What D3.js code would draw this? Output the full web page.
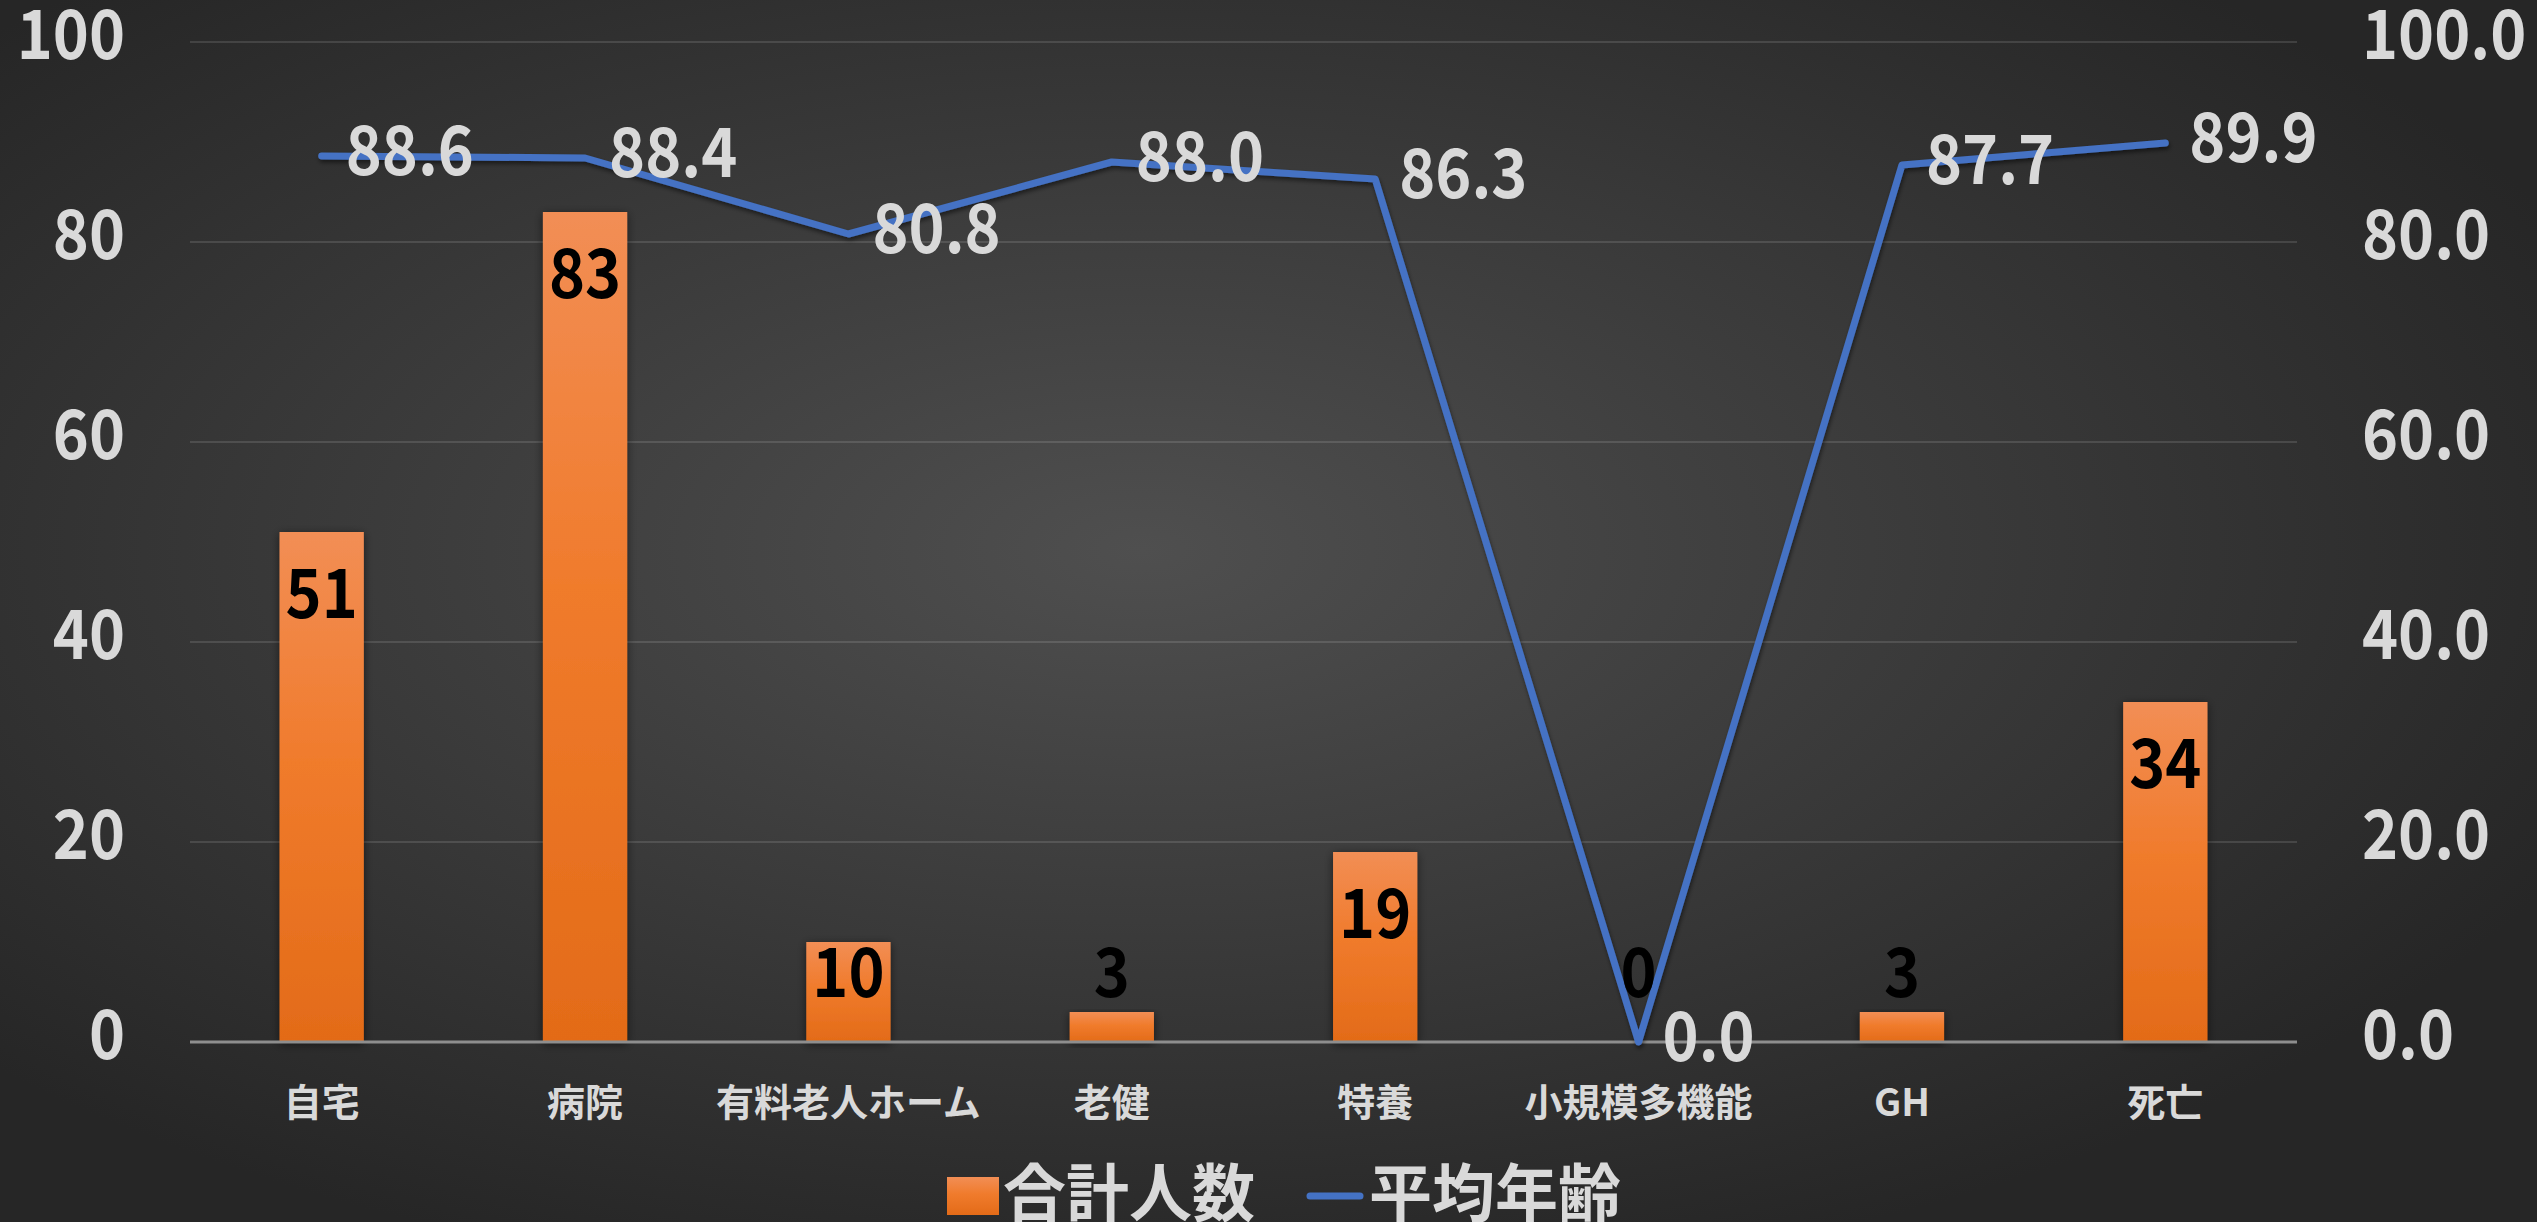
<!DOCTYPE html>
<html>
<head>
<meta charset="utf-8">
<script src="https://cdn.jsdelivr.net/npm/d3@7"></script>
<style>
  html, body { margin: 0; padding: 0; background: #2b2b2b; }
  svg { display: block; }
  text { font-family: "Noto Sans CJK JP", "Noto Sans", sans-serif; }
</style>
</head>
<body>
<svg id="chart" width="2537" height="1222"></svg>
<script>
// ---- data ----
const categories = ["自宅", "病院", "有料老人ホーム", "老健", "特養", "小規模多機能", "GH", "死亡"];
const counts = [51, 83, 10, 3, 19, 0, 3, 34];          // 合計人数 (left axis)
const ages = [88.6, 88.4, 80.8, 88.0, 86.3, 0.0, 87.7, 89.9]; // 平均年齢 (right axis)
const leftTicks = [0, 20, 40, 60, 80, 100];
const rightTicks = [0, 20, 40, 60, 80, 100];
const seriesNames = ["合計人数", "平均年齢"];

// ---- layout ----
const W = 2537, H = 1222;
const plot = { left: 190, right: 2297, top: 42, bottom: 1042 };
const numFont = 68, numScaleX = 0.9, numWeight = 600;
const textColor = "#d9d9d9";

const svg = d3.select("#chart");
const defs = svg.append("defs");

// background radial gradient
const bg = defs.append("radialGradient").attr("id", "bg")
  .attr("cx", "45%").attr("cy", "45%").attr("r", "62%");
bg.append("stop").attr("offset", "0%").attr("stop-color", "#4f4f4f");
bg.append("stop").attr("offset", "100%").attr("stop-color", "#262626");
svg.append("rect").attr("width", W).attr("height", H).attr("fill", "url(#bg)");

// bar gradient
const bgOrange = defs.append("linearGradient").attr("id", "orange")
  .attr("x1", 0).attr("y1", 0).attr("x2", 0).attr("y2", 1);
bgOrange.append("stop").attr("offset", "0%").attr("stop-color", "#F28E55");
bgOrange.append("stop").attr("offset", "45%").attr("stop-color", "#F07B2C");
bgOrange.append("stop").attr("offset", "100%").attr("stop-color", "#E36B18");

// shadows
const sh = defs.append("filter").attr("id", "shadow")
  .attr("x", "-30%").attr("y", "-10%").attr("width", "160%").attr("height", "130%");
sh.append("feDropShadow").attr("dx", 0).attr("dy", 2).attr("stdDeviation", 5)
  .attr("flood-color", "#000").attr("flood-opacity", 0.55);
const shl = defs.append("filter").attr("id", "lshadow")
  .attr("x", "-5%").attr("y", "-5%").attr("width", "110%").attr("height", "110%");
shl.append("feDropShadow").attr("dx", 1).attr("dy", 3).attr("stdDeviation", 2)
  .attr("flood-color", "#000").attr("flood-opacity", 0.5);

// ---- scales ----
const x = d3.scaleBand().domain(categories).range([plot.left, plot.right])
  .paddingInner(0.68).paddingOuter(0.34);
const cx = c => x(c) + x.bandwidth() / 2;
const yL = d3.scaleLinear().domain([0, 100]).range([plot.bottom, plot.top]);
const yR = d3.scaleLinear().domain([0, 100]).range([plot.bottom, plot.top]);

// number text helper (slightly condensed digits)
function numText(g, tx, ty, str, anchor, color) {
  return g.append("text")
    .attr("transform", `translate(${tx},${ty}) scale(${numScaleX},1)`)
    .attr("text-anchor", anchor)
    .attr("dy", "0.32em")
    .attr("font-size", numFont)
    .attr("font-weight", numWeight)
    .attr("fill", color)
    .text(str);
}

// ---- gridlines ----
svg.append("g").selectAll("line").data(leftTicks.filter(t => t !== 0)).join("line")
  .attr("x1", plot.left).attr("x2", plot.right)
  .attr("y1", d => yL(d)).attr("y2", d => yL(d))
  .attr("stroke", "rgba(255,255,255,0.12)").attr("stroke-width", 2);

// ---- axes labels ----
const axL = svg.append("g");
leftTicks.forEach(t => numText(axL, plot.left - 65, yL(t) - 5, d3.format("d")(t), "end", textColor));
const axR = svg.append("g");
rightTicks.forEach(t => numText(axR, plot.right + 65, yR(t) - 5, d3.format(".1f")(t), "start", textColor));

// ---- bars ----
const bars = svg.append("g");
bars.selectAll("rect").data(categories).join("rect")
  .attr("x", d => x(d))
  .attr("width", x.bandwidth())
  .attr("y", (d, i) => yL(counts[i]))
  .attr("height", (d, i) => yL(0) - yL(counts[i]))
  .attr("fill", "url(#orange)")
  .attr("filter", "url(#shadow)");

// zero axis line
svg.append("line")
  .attr("x1", plot.left).attr("x2", plot.right)
  .attr("y1", yL(0)).attr("y2", yL(0))
  .attr("stroke", "#8e8e8e").attr("stroke-width", 3);

// category labels
svg.append("g").selectAll("text").data(categories).join("text")
  .attr("x", d => cx(d))
  .attr("y", plot.bottom + 57)
  .attr("text-anchor", "middle")
  .attr("dominant-baseline", "central")
  .attr("font-size", 38)
  .attr("font-weight", 600)
  .attr("fill", textColor)
  .text(d => d);

// ---- line ----
const lineGen = d3.line().x((d, i) => cx(categories[i])).y(d => yR(d));
svg.append("path")
  .datum(ages)
  .attr("d", lineGen)
  .attr("fill", "none")
  .attr("stroke", "#4472C4")
  .attr("stroke-width", 7)
  .attr("stroke-linejoin", "round")
  .attr("stroke-linecap", "round")
  .attr("filter", "url(#lshadow)");

// ---- bar value labels (inside end, clamped above axis) ----
const bl = svg.append("g");
categories.forEach((c, i) => {
  const yy = Math.min(yL(counts[i]) + 64, yL(0) - 67);
  numText(bl, cx(c), yy, String(counts[i]), "middle", "#000000");
});

// ---- line value labels (right of point) ----
const ll = svg.append("g");
categories.forEach((c, i) => {
  numText(ll, cx(c) + 24, yR(ages[i]) - 3, d3.format(".1f")(ages[i]), "start", textColor);
});

// ---- legend ----
const lg = svg.append("g");
lg.append("rect").attr("x", 947).attr("y", 1177).attr("width", 52).attr("height", 38)
  .attr("fill", "url(#orange)");
lg.append("text").attr("x", 1003).attr("y", 1188)
  .attr("dominant-baseline", "central")
  .attr("font-size", 63).attr("font-weight", 700).attr("fill", textColor)
  .text(seriesNames[0]);
lg.append("line").attr("x1", 1310).attr("x2", 1360).attr("y1", 1196).attr("y2", 1196)
  .attr("stroke", "#4472C4").attr("stroke-width", 7).attr("stroke-linecap", "round");
lg.append("text").attr("x", 1369).attr("y", 1188)
  .attr("dominant-baseline", "central")
  .attr("font-size", 63).attr("font-weight", 700).attr("fill", textColor)
  .text(seriesNames[1]);
</script>
</body>
</html>
